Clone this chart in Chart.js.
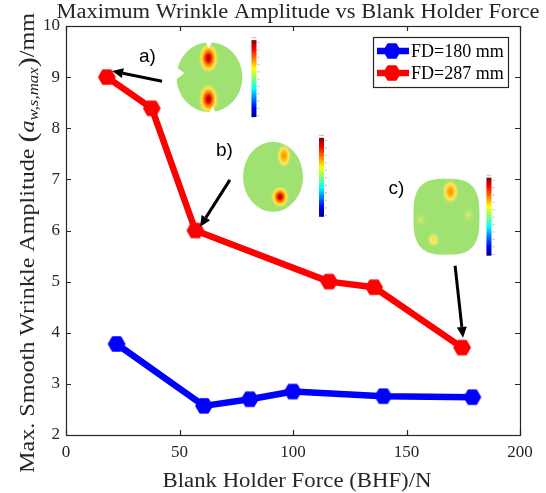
<!DOCTYPE html>
<html>
<head>
<meta charset="utf-8">
<script src="https://cdn.jsdelivr.net/npm/chart.js@4.4.0/dist/chart.umd.min.js"></script>
<style>
  html, body { margin: 0; padding: 0; background: #fff; }
</style>
</head>
<body>
<canvas id="chart" width="546" height="493"></canvas>
<script>
(function() {
  'use strict';

  // data
  var bhf_180 = [22.3, 60.8, 81, 99.9, 139.8, 179];
  var amp_180 = [3.78, 2.57, 2.70, 2.85, 2.76, 2.74];
  var bhf_287 = [18, 37.8, 57, 115.9, 135.7, 174.5];
  var amp_287 = [9.0, 8.39, 6.0, 5.0, 4.89, 3.71];
  var series_labels = ['FD=180 mm', 'FD=287 mm'];
  var series_colors = ['#0000ff', '#ff0000'];

  var serif = '"Liberation Serif", "Times New Roman", serif';
  var ink = '#262626';
  var green = '#9fe272';

  // hexagon marker drawn once per colour
  function hexMarker(color, r) {
    var c = document.createElement('canvas');
    var s = Math.ceil(2 * r + 4);
    c.width = s; c.height = s;
    var g = c.getContext('2d');
    g.beginPath();
    for (var i = 0; i < 6; i++) {
      var a = i * Math.PI / 3;
      var px = s / 2 + r * Math.cos(a), py = s / 2 + r * Math.sin(a);
      if (i === 0) g.moveTo(px, py); else g.lineTo(px, py);
    }
    g.closePath();
    g.fillStyle = color; g.fill();
    g.lineJoin = 'round'; g.lineWidth = 2; g.strokeStyle = color; g.stroke();
    return c;
  }

  function toPoints(xs, ys) {
    return xs.map(function(x, i) { return { x: x, y: ys[i] }; });
  }

  var markers = [hexMarker(series_colors[0], 7.8), hexMarker(series_colors[1], 7.8)];

  // inset pictures (a, b, c) placed in data units, sizes in pixels
  var insets = [
    { cx: 63.2, cy: 9.0, rx: 33, ry: 35, shape: 'round', bar: [42, -37, 40],
      spots: [[-1, -19, 11, 17, 'red'], [-1, 22, 11, 17, 'red']],
      notches: [[[-37, -13], [-25, -4], [-37, 5]], [[-4, -36], [-1, -29], [3, -36]], [[0, 36], [3, 29], [6, 35]]] },
    { cx: 91.2, cy: 7.05, rx: 30, ry: 35, shape: 'round', bar: [46, -39, 40],
      spots: [[11, -21, 8, 13, 'orange'], [7, 20, 10, 12, 'red']], notches: [] },
    { cx: 167.6, cy: 6.27, rx: 33, ry: 38, shape: 'square', bar: [40, -39, 39],
      spots: [[4, -25, 9, 13, 'orange'], [-13, 23, 7, 8, 'yellow'], [22, -2, 8, 10, 'faint'], [-26, 3, 7, 8, 'faint']],
      notches: [] }
  ];
  var arrows = [
    [42.3, 8.92, 20.3, 9.12],
    [72.2, 6.99, 59.0, 6.07],
    [171.4, 5.31, 174.9, 3.90]
  ];
  var tags = [['a)', 35.9, 9.40], ['b)', 69.8, 7.565], ['c)', 145.6, 6.82]];

  var spotStops = {
    red:    [[0, '#a00000'], [0.22, '#e81000'], [0.42, '#ff8a00'], [0.65, '#ffe84a'], [1, 'rgba(159,226,114,0)']],
    orange: [[0, '#ff8a00'], [0.3, '#ffb800'], [0.6, '#ffe860'], [1, 'rgba(159,226,114,0)']],
    yellow: [[0, '#ffd84a'], [0.5, '#eeec66'], [1, 'rgba(159,226,114,0)']],
    faint:  [[0, '#dcec6a'], [1, 'rgba(159,226,114,0)']]
  };

  function shapePath(ctx, x, y, rx, ry, shape) {
    ctx.beginPath();
    if (shape === 'square') {
      var n = 3.0;
      for (var i = 0; i <= 80; i++) {
        var t = i / 80 * 2 * Math.PI;
        var c = Math.cos(t), s = Math.sin(t);
        var px = x + rx * Math.sign(c) * Math.pow(Math.abs(c), 2 / n);
        var py = y + ry * Math.sign(s) * Math.pow(Math.abs(s), 2 / n);
        if (i === 0) ctx.moveTo(px, py); else ctx.lineTo(px, py);
      }
      ctx.closePath();
    } else {
      ctx.ellipse(x, y, rx, ry, 0, 0, 2 * Math.PI);
    }
  }

  function drawInset(ctx, ins, X, Y) {
    ctx.save();
    shapePath(ctx, X, Y, ins.rx, ins.ry, ins.shape);
    ctx.fillStyle = green;
    ctx.fill();
    ctx.clip();
    ins.spots.forEach(function(sp) {
      ctx.save();
      ctx.translate(X + sp[0], Y + sp[1]);
      ctx.scale(1, sp[3] / sp[2]);
      var g = ctx.createRadialGradient(0, 0, 0, 0, 0, sp[2]);
      spotStops[sp[4]].forEach(function(st) { g.addColorStop(st[0], st[1]); });
      ctx.fillStyle = g;
      ctx.beginPath();
      ctx.arc(0, 0, sp[2], 0, 2 * Math.PI);
      ctx.fill();
      ctx.restore();
    });
    ctx.restore();
    ins.notches.forEach(function(tri) {
      ctx.beginPath();
      tri.forEach(function(p, i) {
        if (i === 0) ctx.moveTo(X + p[0], Y + p[1]); else ctx.lineTo(X + p[0], Y + p[1]);
      });
      ctx.closePath();
      ctx.fillStyle = '#fff';
      ctx.fill();
    });
    // colour bar (jet)
    var bx = X + ins.bar[0], by0 = Y + ins.bar[1], by1 = Y + ins.bar[2];
    var jet = ctx.createLinearGradient(0, by0, 0, by1);
    jet.addColorStop(0, '#800000');
    jet.addColorStop(0.12, '#ff0000');
    jet.addColorStop(0.37, '#ffff00');
    jet.addColorStop(0.5, '#80ff80');
    jet.addColorStop(0.63, '#00ffff');
    jet.addColorStop(0.88, '#0000ff');
    jet.addColorStop(1, '#000080');
    ctx.fillStyle = jet;
    ctx.fillRect(bx, by0, 5, by1 - by0);
    ctx.fillStyle = '#bbb';
    for (var k = 0; k <= 10; k++) {
      ctx.fillRect(bx + 6, by0 + 2 + k * (by1 - by0 - 4) / 10, 2, 1);
    }
    ctx.fillRect(bx, by0 - 3, 5, 1);
  }

  function drawArrow(ctx, x0, y0, x1, y1) {
    var a = Math.atan2(y1 - y0, x1 - x0), L = 11, W = 5;
    var bx = x1 - L * Math.cos(a), by = y1 - L * Math.sin(a);
    ctx.strokeStyle = '#000';
    ctx.lineWidth = 3;
    ctx.beginPath();
    ctx.moveTo(x0, y0);
    ctx.lineTo(bx, by);
    ctx.stroke();
    ctx.fillStyle = '#000';
    ctx.beginPath();
    ctx.moveTo(x1, y1);
    ctx.lineTo(bx + W * Math.sin(a), by - W * Math.cos(a));
    ctx.lineTo(bx - W * Math.sin(a), by + W * Math.cos(a));
    ctx.closePath();
    ctx.fill();
  }

  // text made of parts, stretched to a target width (LaTeX fonts are wider)
  function drawParts(ctx, parts, cx, baseline, width) {
    var total = 0;
    parts.forEach(function(p) { ctx.font = p.f; p.w = ctx.measureText(p.t).width; total += p.w; });
    var sx = width / total;
    ctx.save();
    ctx.translate(cx, baseline);
    ctx.scale(sx, 1);
    ctx.fillStyle = ink;
    ctx.textBaseline = 'alphabetic';
    ctx.textAlign = 'left';
    var x = -total / 2;
    parts.forEach(function(p) {
      ctx.font = p.f;
      ctx.fillText(p.t, x, p.dy || 0);
      x += p.w;
    });
    ctx.restore();
  }

  var decorations = {
    id: 'decorations',
    afterDatasetsDraw: function(chart) {
      var ctx = chart.ctx, xs = chart.scales.x, ys = chart.scales.y;
      var area = chart.chartArea;
      ctx.save();

      insets.forEach(function(ins) {
        drawInset(ctx, ins, xs.getPixelForValue(ins.cx), ys.getPixelForValue(ins.cy));
      });
      arrows.forEach(function(a) {
        drawArrow(ctx, xs.getPixelForValue(a[0]), ys.getPixelForValue(a[1]),
                  xs.getPixelForValue(a[2]), ys.getPixelForValue(a[3]));
      });
      ctx.fillStyle = '#000';
      ctx.font = '19px "Liberation Sans", Arial, sans-serif';
      ctx.textAlign = 'center';
      ctx.textBaseline = 'middle';
      tags.forEach(function(t) {
        ctx.fillText(t[0], xs.getPixelForValue(t[1]), ys.getPixelForValue(t[2]));
      });

      // box with inward ticks on all four sides
      ctx.strokeStyle = ink;
      ctx.lineWidth = 1.2;
      ctx.strokeRect(area.left + 0.5, area.top + 0.5, area.right - area.left, area.bottom - area.top);
      ctx.beginPath();
      xs.ticks.forEach(function(t) {
        var px = Math.round(xs.getPixelForValue(t.value)) + 0.5;
        ctx.moveTo(px, area.bottom); ctx.lineTo(px, area.bottom - 5);
        ctx.moveTo(px, area.top); ctx.lineTo(px, area.top + 5);
      });
      ys.ticks.forEach(function(t) {
        var py = Math.round(ys.getPixelForValue(t.value)) + 0.5;
        ctx.moveTo(area.left, py); ctx.lineTo(area.left + 5, py);
        ctx.moveTo(area.right, py); ctx.lineTo(area.right - 5, py);
      });
      ctx.stroke();

      // legend
      var lx = 373, ly = 37, lw = 135, lh = 50;
      ctx.fillStyle = '#fff';
      ctx.fillRect(lx, ly, lw, lh);
      ctx.strokeStyle = ink;
      ctx.lineWidth = 1.2;
      ctx.strokeRect(lx + 0.5, ly + 0.5, lw, lh);
      chart.data.datasets.forEach(function(ds, i) {
        var yy = ly + 14 + i * 22;
        ctx.strokeStyle = ds.borderColor;
        ctx.lineWidth = 6.5;
        ctx.beginPath();
        ctx.moveTo(lx + 4, yy); ctx.lineTo(lx + 36, yy);
        ctx.stroke();
        ctx.drawImage(markers[i], lx + 19 - markers[i].width / 2, yy - markers[i].height / 2);
        ctx.fillStyle = '#000';
        ctx.font = '18px ' + serif;
        ctx.textAlign = 'left';
        ctx.textBaseline = 'middle';
        ctx.fillText(ds.label, lx + 38, yy + 1);
      });

      // titles
      drawParts(ctx, [{ t: 'Maximum Wrinkle Amplitude vs Blank Holder Force', f: '20px ' + serif }],
                (area.left + area.right) / 2 + 5, 18, 483);
      drawParts(ctx, [{ t: 'Blank Holder Force (BHF)/N', f: '20px ' + serif }],
                (area.left + area.right) / 2 + 4, 487, 269);
      ctx.save();
      ctx.translate(34, 243);
      ctx.rotate(-Math.PI / 2);
      drawParts(ctx, [
        { t: 'Max. Smooth Wrinkle Amplitude ', f: '20px ' + serif },
        { t: '(', f: '25px ' + serif, dy: 2 },
        { t: 'a', f: 'italic 20px ' + serif },
        { t: 'w,s,max', f: 'italic 14px ' + serif, dy: 4 },
        { t: ')', f: '25px ' + serif, dy: 2 },
        { t: '/mm', f: '20px ' + serif }
      ], 0, 0, 460);
      ctx.restore();

      ctx.restore();
    }
  };

  var ctx = document.getElementById('chart').getContext('2d');

  new Chart(ctx, {
    type: 'line',
    data: {
      datasets: [
        {
          label: series_labels[0],
          data: toPoints(bhf_180, amp_180),
          borderColor: series_colors[0],
          backgroundColor: series_colors[0],
          borderWidth: 6.5,
          pointStyle: markers[0],
          tension: 0,
          borderJoinStyle: 'round',
          borderCapStyle: 'round'
        },
        {
          label: series_labels[1],
          data: toPoints(bhf_287, amp_287),
          borderColor: series_colors[1],
          backgroundColor: series_colors[1],
          borderWidth: 6.5,
          pointStyle: markers[1],
          tension: 0,
          borderJoinStyle: 'round',
          borderCapStyle: 'round'
        }
      ]
    },
    options: {
      responsive: false,
      animation: false,
      events: [],
      layout: { padding: { top: 26, right: 26, left: 0, bottom: 0 } },
      plugins: { legend: { display: false }, tooltip: { enabled: false } },
      scales: {
        x: {
          type: 'linear', min: 0, max: 200,
          grid: { display: false, drawTicks: false },
          border: { display: false },
          ticks: { stepSize: 50, padding: 7, color: ink, font: { family: serif, size: 17 }, maxRotation: 0 },
          afterFit: function(scale) { scale.height = 58; }
        },
        y: {
          min: 2, max: 10,
          grid: { display: false, drawTicks: false },
          border: { display: false },
          ticks: { stepSize: 1, padding: 6, color: ink, font: { family: serif, size: 17 } },
          afterFit: function(scale) { scale.width = 66; }
        }
      }
    },
    plugins: [decorations]
  });
})();
</script>
</body>
</html>
